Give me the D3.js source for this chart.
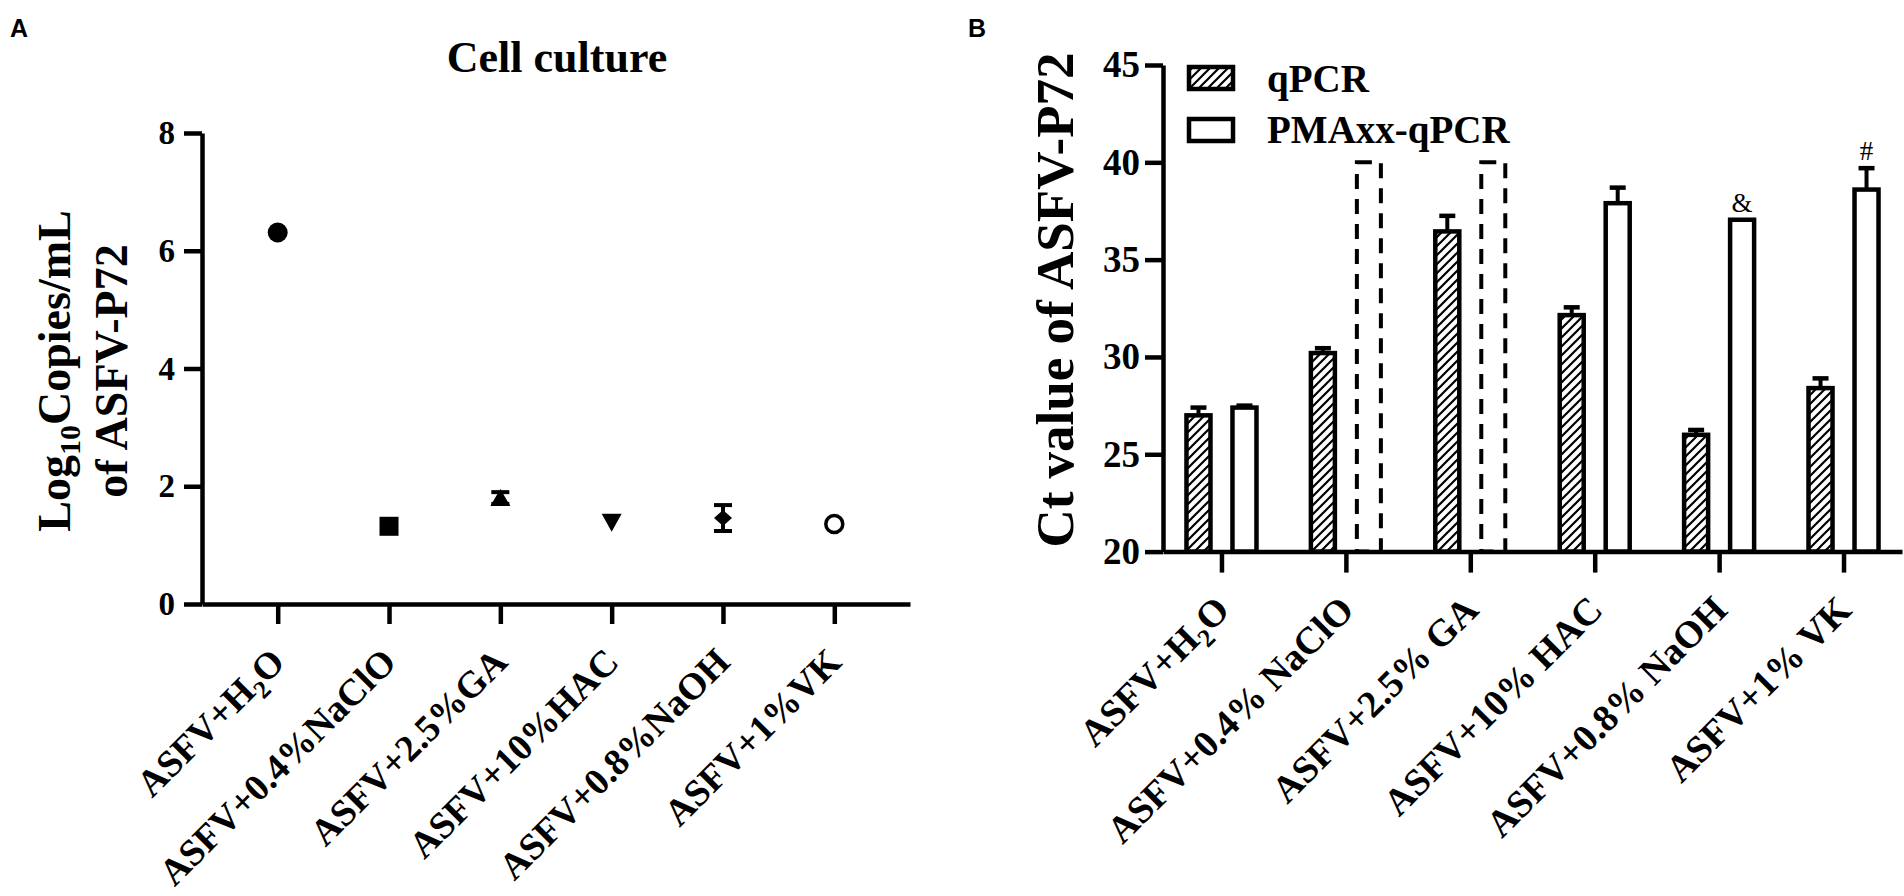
<!DOCTYPE html>
<html><head><meta charset="utf-8">
<script src="https://cdn.jsdelivr.net/npm/d3@7"></script>
<style>
html,body{margin:0;padding:0;background:#fff;}
svg{display:block;}
text{font-family:"Liberation Serif","Times New Roman",serif;font-weight:bold;fill:#000;}
</style></head>
<body>
<script>
// ---------- Panel A data ----------
const catsA = ["H2O","NaClO","GA","HAC","NaOH","VK"];
const labelsA = [["ASFV+H","2","O"],["ASFV+0.4%NaClO"],["ASFV+2.5%GA"],["ASFV+10%HAC"],["ASFV+0.8%NaOH"],["ASFV+1%VK"]];
const valuesA = [6.31, 1.32, 1.80, 1.38, 1.46, 1.36];
const errA    = [0, 0, 0.10, 0, 0.22, 0];
const shapesA = ["circle","square","triUp","triDown","diamond","openCircle"];
const ticksA  = [0, 2, 4, 6, 8];

// ---------- Panel B data ----------
const catsB = ["H2O","NaClO","GA","HAC","NaOH","VK"];
const labelsB = [["ASFV+H","2","O"],["ASFV+0.4% NaClO"],["ASFV+2.5% GA"],["ASFV+10% HAC"],["ASFV+0.8% NaOH"],["ASFV+1% VK"]];
const seriesB = ["qPCR","PMAxx-qPCR"];
const qpcrVals = [27.0, 30.2, 36.45, 32.15, 26.0, 28.4];
const qpcrErr  = [0.4, 0.25, 0.8, 0.4, 0.25, 0.5];
const pmaVals  = [27.4, 40, 40, 37.9, 37.05, 38.6];
const pmaErr   = [0.1, 0, 0, 0.8, 0, 1.1];
const pmaNotDetected = [false, true, true, false, false, false];
const pmaMarks = ["", "", "", "", "&", "#"];
const ticksB  = [20, 25, 30, 35, 40, 45];

const W = 1904, H = 896;
const svg = d3.select("body").append("svg").attr("width", W).attr("height", H);

// hatch pattern
const defs = svg.append("defs");
const pat = defs.append("pattern").attr("id","hatch").attr("patternUnits","userSpaceOnUse")
  .attr("width",9).attr("height",9);
pat.append("rect").attr("width",9).attr("height",9).attr("fill","#fff");
pat.append("path").attr("d","M-1,1 l2,-2 M0,9 l9,-9 M8,10 l2,-2")
  .attr("stroke","#000").attr("stroke-width",2.2);

function styleAxis(g, fs){
  g.selectAll("path.domain").attr("stroke","#000").attr("stroke-width",4.5);
  g.selectAll(".tick line").attr("stroke","#000").attr("stroke-width",4.5);
  g.selectAll(".tick text").style("font-family",'"Liberation Serif","Times New Roman",serif')
    .style("font-weight","bold").style("font-size",fs+"px").attr("fill","#000");
}

function addLabel(g, parts, fs){
  const t = g.append("text").attr("text-anchor","end").style("font-size",fs+"px");
  if(parts.length === 1){ t.text(parts[0]); }
  else {
    t.append("tspan").text(parts[0]);
    t.append("tspan").text(parts[1]).attr("dy",9).style("font-size",(fs*0.68)+"px");
    t.append("tspan").text(parts[2]).attr("dy",-9);
  }
}

// ================= Panel A =================
const xA = d3.scalePoint().domain(catsA).range([202, 910]).padding(0.68);
const yA = d3.scaleLinear().domain([0, 8]).range([604, 133]);

svg.append("text").attr("x",10).attr("y",37).text("A")
  .style("font-family",'"Liberation Sans",Arial,sans-serif').style("font-size","25px");
svg.append("text").attr("x",557).attr("y",72).attr("text-anchor","middle")
  .style("font-size","44px").text("Cell culture");

const gAy = svg.append("g").attr("transform","translate(202,0)")
  .call(d3.axisLeft(yA).tickValues(ticksA).tickSize(18).tickPadding(9).tickSizeOuter(0));
styleAxis(gAy, 33);
const gAx = svg.append("g").attr("transform","translate(0,604)")
  .call(d3.axisBottom(xA).tickSize(20).tickSizeOuter(0).tickFormat(""));
styleAxis(gAx, 33);

// y title A
const tA = svg.append("text").attr("transform","translate(70,371) rotate(-90)")
  .attr("text-anchor","middle").style("font-size","46px");
tA.append("tspan").text("Log");
tA.append("tspan").text("10").attr("dy",10).style("font-size","30px");
tA.append("tspan").text("Copies/mL").attr("dy",-10);
svg.append("text").attr("transform","translate(127,371) rotate(-90)")
  .attr("text-anchor","middle").style("font-size","46px").text("of ASFV-P72");

// category labels A
catsA.forEach((c,i)=>{
  const g = svg.append("g").attr("transform",`translate(${xA(c)+9},664) rotate(-45)`);
  addLabel(g, labelsA[i], 37.5);
});

// points A
const gPts = svg.append("g");
catsA.forEach((c,i)=>{
  const cx = xA(c), cy = yA(valuesA[i]);
  if(errA[i] > 0){
    const y1 = yA(valuesA[i]+errA[i]), y2 = yA(valuesA[i]-errA[i]);
    gPts.append("line").attr("x1",cx).attr("x2",cx).attr("y1",y1).attr("y2",y2)
      .attr("stroke","#000").attr("stroke-width",4);
    [y1,y2].forEach(yy=>gPts.append("line").attr("x1",cx-9).attr("x2",cx+9)
      .attr("y1",yy).attr("y2",yy).attr("stroke","#000").attr("stroke-width",4));
  }
  const s = shapesA[i];
  if(s==="circle") gPts.append("circle").attr("cx",cx).attr("cy",cy).attr("r",10).attr("fill","#000");
  else if(s==="openCircle") gPts.append("circle").attr("cx",cx).attr("cy",cy).attr("r",8.5)
      .attr("fill","#fff").attr("stroke","#000").attr("stroke-width",3.5);
  else if(s==="square") gPts.append("rect").attr("x",cx-9.5).attr("y",cy-9.5).attr("width",19).attr("height",19).attr("fill","#000");
  else if(s==="triUp") gPts.append("path").attr("d",`M${cx-10},${cy+8}L${cx+10},${cy+8}L${cx},${cy-9}Z`).attr("fill","#000");
  else if(s==="triDown") gPts.append("path").attr("d",`M${cx-10},${cy-9}L${cx+10},${cy-9}L${cx},${cy+9}Z`).attr("fill","#000");
  else if(s==="diamond") gPts.append("path").attr("d",`M${cx-9},${cy}L${cx},${cy-8}L${cx+9},${cy}L${cx},${cy+8}Z`).attr("fill","#000");
});

// ================= Panel B =================
const xB = d3.scalePoint().domain(catsB).range([1163, 1902]).padding(0.47);
const xSub = d3.scaleBand().domain(seriesB).range([-35, 35]).paddingInner(0.478);
const yB = d3.scaleLinear().domain([20, 45]).range([551.6, 65]);

svg.append("text").attr("x",968).attr("y",37).text("B")
  .style("font-family",'"Liberation Sans",Arial,sans-serif').style("font-size","25px");

svg.append("text").attr("transform","translate(1073,300) rotate(-90)")
  .attr("text-anchor","middle").style("font-size","53px").text("Ct value of ASFV-P72");

// bars
const gBars = svg.append("g");
const bw = xSub.bandwidth();
function errBar(cx, v, e){
  if(e <= 0) return;
  gBars.append("line").attr("x1",cx).attr("x2",cx).attr("y1",yB(v)).attr("y2",yB(v+e))
    .attr("stroke","#000").attr("stroke-width",4);
  gBars.append("line").attr("x1",cx-8).attr("x2",cx+8).attr("y1",yB(v+e)).attr("y2",yB(v+e))
    .attr("stroke","#000").attr("stroke-width",4.5);
}
catsB.forEach((c,i)=>{
  // qPCR
  const x0 = xB(c) + xSub("qPCR");
  errBar(x0 + bw/2, qpcrVals[i], qpcrErr[i]);
  gBars.append("rect").attr("x",x0).attr("y",yB(qpcrVals[i])).attr("width",bw)
    .attr("height",yB(20)-yB(qpcrVals[i])).attr("fill","url(#hatch)")
    .attr("stroke","#000").attr("stroke-width",4.5);
  // PMAxx
  const x1 = xB(c) + xSub("PMAxx-qPCR");
  errBar(x1 + bw/2, pmaVals[i], pmaErr[i]);
  const r = gBars.append("rect").attr("x",x1).attr("y",yB(pmaVals[i])).attr("width",bw)
    .attr("height",yB(20)-yB(pmaVals[i])).attr("fill","#fff")
    .attr("stroke","#000").attr("stroke-width",4.5);
  if(pmaNotDetected[i]) r.attr("fill","none").attr("stroke-dasharray","15,10").attr("stroke-width",4);
  if(pmaMarks[i]){
    gBars.append("text").attr("x",x1+bw/2).attr("y",yB(pmaVals[i]+pmaErr[i])-8)
      .attr("text-anchor","middle").style("font-weight","normal").style("font-size","27px")
      .text(pmaMarks[i]);
  }
});

const gBy = svg.append("g").attr("transform","translate(1163,0)")
  .call(d3.axisLeft(yB).tickValues(ticksB).tickSize(18).tickPadding(5).tickSizeOuter(0));
styleAxis(gBy, 37);
const gBx = svg.append("g").attr("transform","translate(0,551.6)")
  .call(d3.axisBottom(xB).tickSize(21).tickSizeOuter(0).tickFormat(""));
styleAxis(gBx, 37);

catsB.forEach((c,i)=>{
  const g = svg.append("g").attr("transform",`translate(${xB(c)+10},612) rotate(-45)`);
  addLabel(g, labelsB[i], 38);
});

// legend
const leg = svg.append("g");
[["qPCR","url(#hatch)",67,92],["PMAxx-qPCR","#fff",119,143]].forEach((d,i)=>{
  leg.append("rect").attr("x",1189).attr("y",d[2]).attr("width",44).attr("height",22)
    .attr("fill",d[1]).attr("stroke","#000").attr("stroke-width",4.5);
  leg.append("text").attr("x",1267).attr("y",d[3]).style("font-size","39px").text(seriesB[i]);
});
</script>
</body></html>
